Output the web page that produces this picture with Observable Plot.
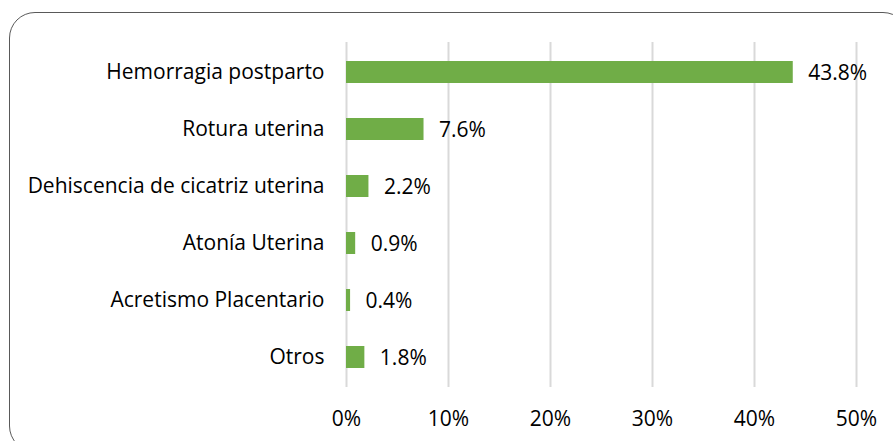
<!DOCTYPE html>
<html><head><meta charset="utf-8">
<script src="https://cdn.jsdelivr.net/npm/d3@7"></script>
<script src="https://cdn.jsdelivr.net/npm/@observablehq/plot@0.6"></script>
<style>
html,body{margin:0;padding:0;background:#fff;overflow:hidden}
#wrap{position:relative;width:893px;height:441px}
#border{position:absolute;left:9px;top:12px;width:900px;height:440px;border:1.5px solid #595959;border-radius:26px;box-sizing:border-box;pointer-events:none}
</style></head><body>
<div id="wrap"><div id="border"></div></div>
<script>
const categories = ["Hemorragia postparto","Rotura uterina","Dehiscencia de cicatriz uterina","Atonía Uterina","Acretismo Placentario","Otros"];
const values = [43.8, 7.6, 2.2, 0.9, 0.4, 1.8];
const tickValues = [0,10,20,30,40,50];
const data = categories.map((c,i)=>({cat:c, v:values[i]}));
const chart = Plot.plot({
  width: 893, height: 441,
  marginLeft: 346, marginRight: 37, marginTop: 42, marginBottom: 54,
  style: {fontFamily: "'Open Sans', sans-serif", fontSize: "21px", color: "#000", background: "transparent"},
  x: {domain:[0,50], ticks: tickValues, tickFormat: d=>d+"%", label:null},
  y: {domain: categories, paddingInner: 0.617, paddingOuter: 0.31, label:null},
  marks: [
    Plot.gridX(tickValues, {stroke:"#d9d9d9", strokeOpacity:1, strokeWidth:2}),
    Plot.axisX({ticks: tickValues, tickFormat: d=>d+"%", tickSize:0, tickPadding:24, fontSize:21, label:null}),
    Plot.axisY({tickSize:0, tickPadding:22, fontSize:21, label:null}),
    Plot.barX(data, {x:"v", y:"cat", fill:"#70AD47"}),
    Plot.text(data, {x:"v", y:"cat", text:d=>d.v.toFixed(1)+"%", textAnchor:"start", dx:15, dy:1, fontSize:21, fill:"#000"})
  ]
});
chart.style.position="absolute"; chart.style.left="0"; chart.style.top="0";
document.getElementById("wrap").prepend(chart);
</script>
</body></html>
